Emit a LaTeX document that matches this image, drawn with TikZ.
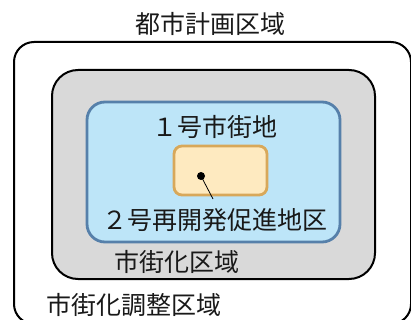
\documentclass[tikz,border=0pt]{standalone}
\usepackage{fontspec}
\newfontfamily\jp{Noto Sans CJK JP}
\definecolor{grayfill}{HTML}{D9D9D9}
\definecolor{bluefill}{HTML}{BDE5F8}
\definecolor{bluestroke}{HTML}{5680AA}
\definecolor{orangefill}{HTML}{FEEAC0}
\definecolor{orangestroke}{HTML}{D8A85A}
\tikzset{
  lbl/.style={font=\jp\fontsize{25}{27}\selectfont, inner sep=0pt, text=black!90},
  zone/.style={line width=2pt, rounded corners=#1},
}
\begin{document}
\begin{tikzpicture}[x=1pt,y=-1pt]
\useasboundingbox (0,0) rectangle (411,320);
\draw[zone=20pt, draw=black, fill=white] (14,42) rectangle (411,324);
\draw[zone=26pt, draw=black, fill=grayfill] (52,70) rectangle (375,279);
\draw[zone=18pt, draw=bluestroke, fill=bluefill, line width=2.8pt] (87,102) rectangle (340,242);
\draw[draw=orangestroke, fill=orangefill, line width=2.8pt, rounded corners=8pt] (174,146) rectangle (267,195);
\node[lbl] (city) at (210,24) {都市計画区域};
\node[lbl] (one) at (215,127) {１号市街地};
\node[lbl] (two) at (215,220) {２号再開発促進地区};
\node[lbl] (urban) at (177,262) {市街化区域};
\node[lbl] (ctrl) at (134,305) {市街化調整区域};
\fill[black] (201,176) circle (4pt) coordinate (dot);
\coordinate (lineend) at (213,199);
\draw[line width=0.8pt] (201,176) -- (lineend);
\end{tikzpicture}
\end{document}
